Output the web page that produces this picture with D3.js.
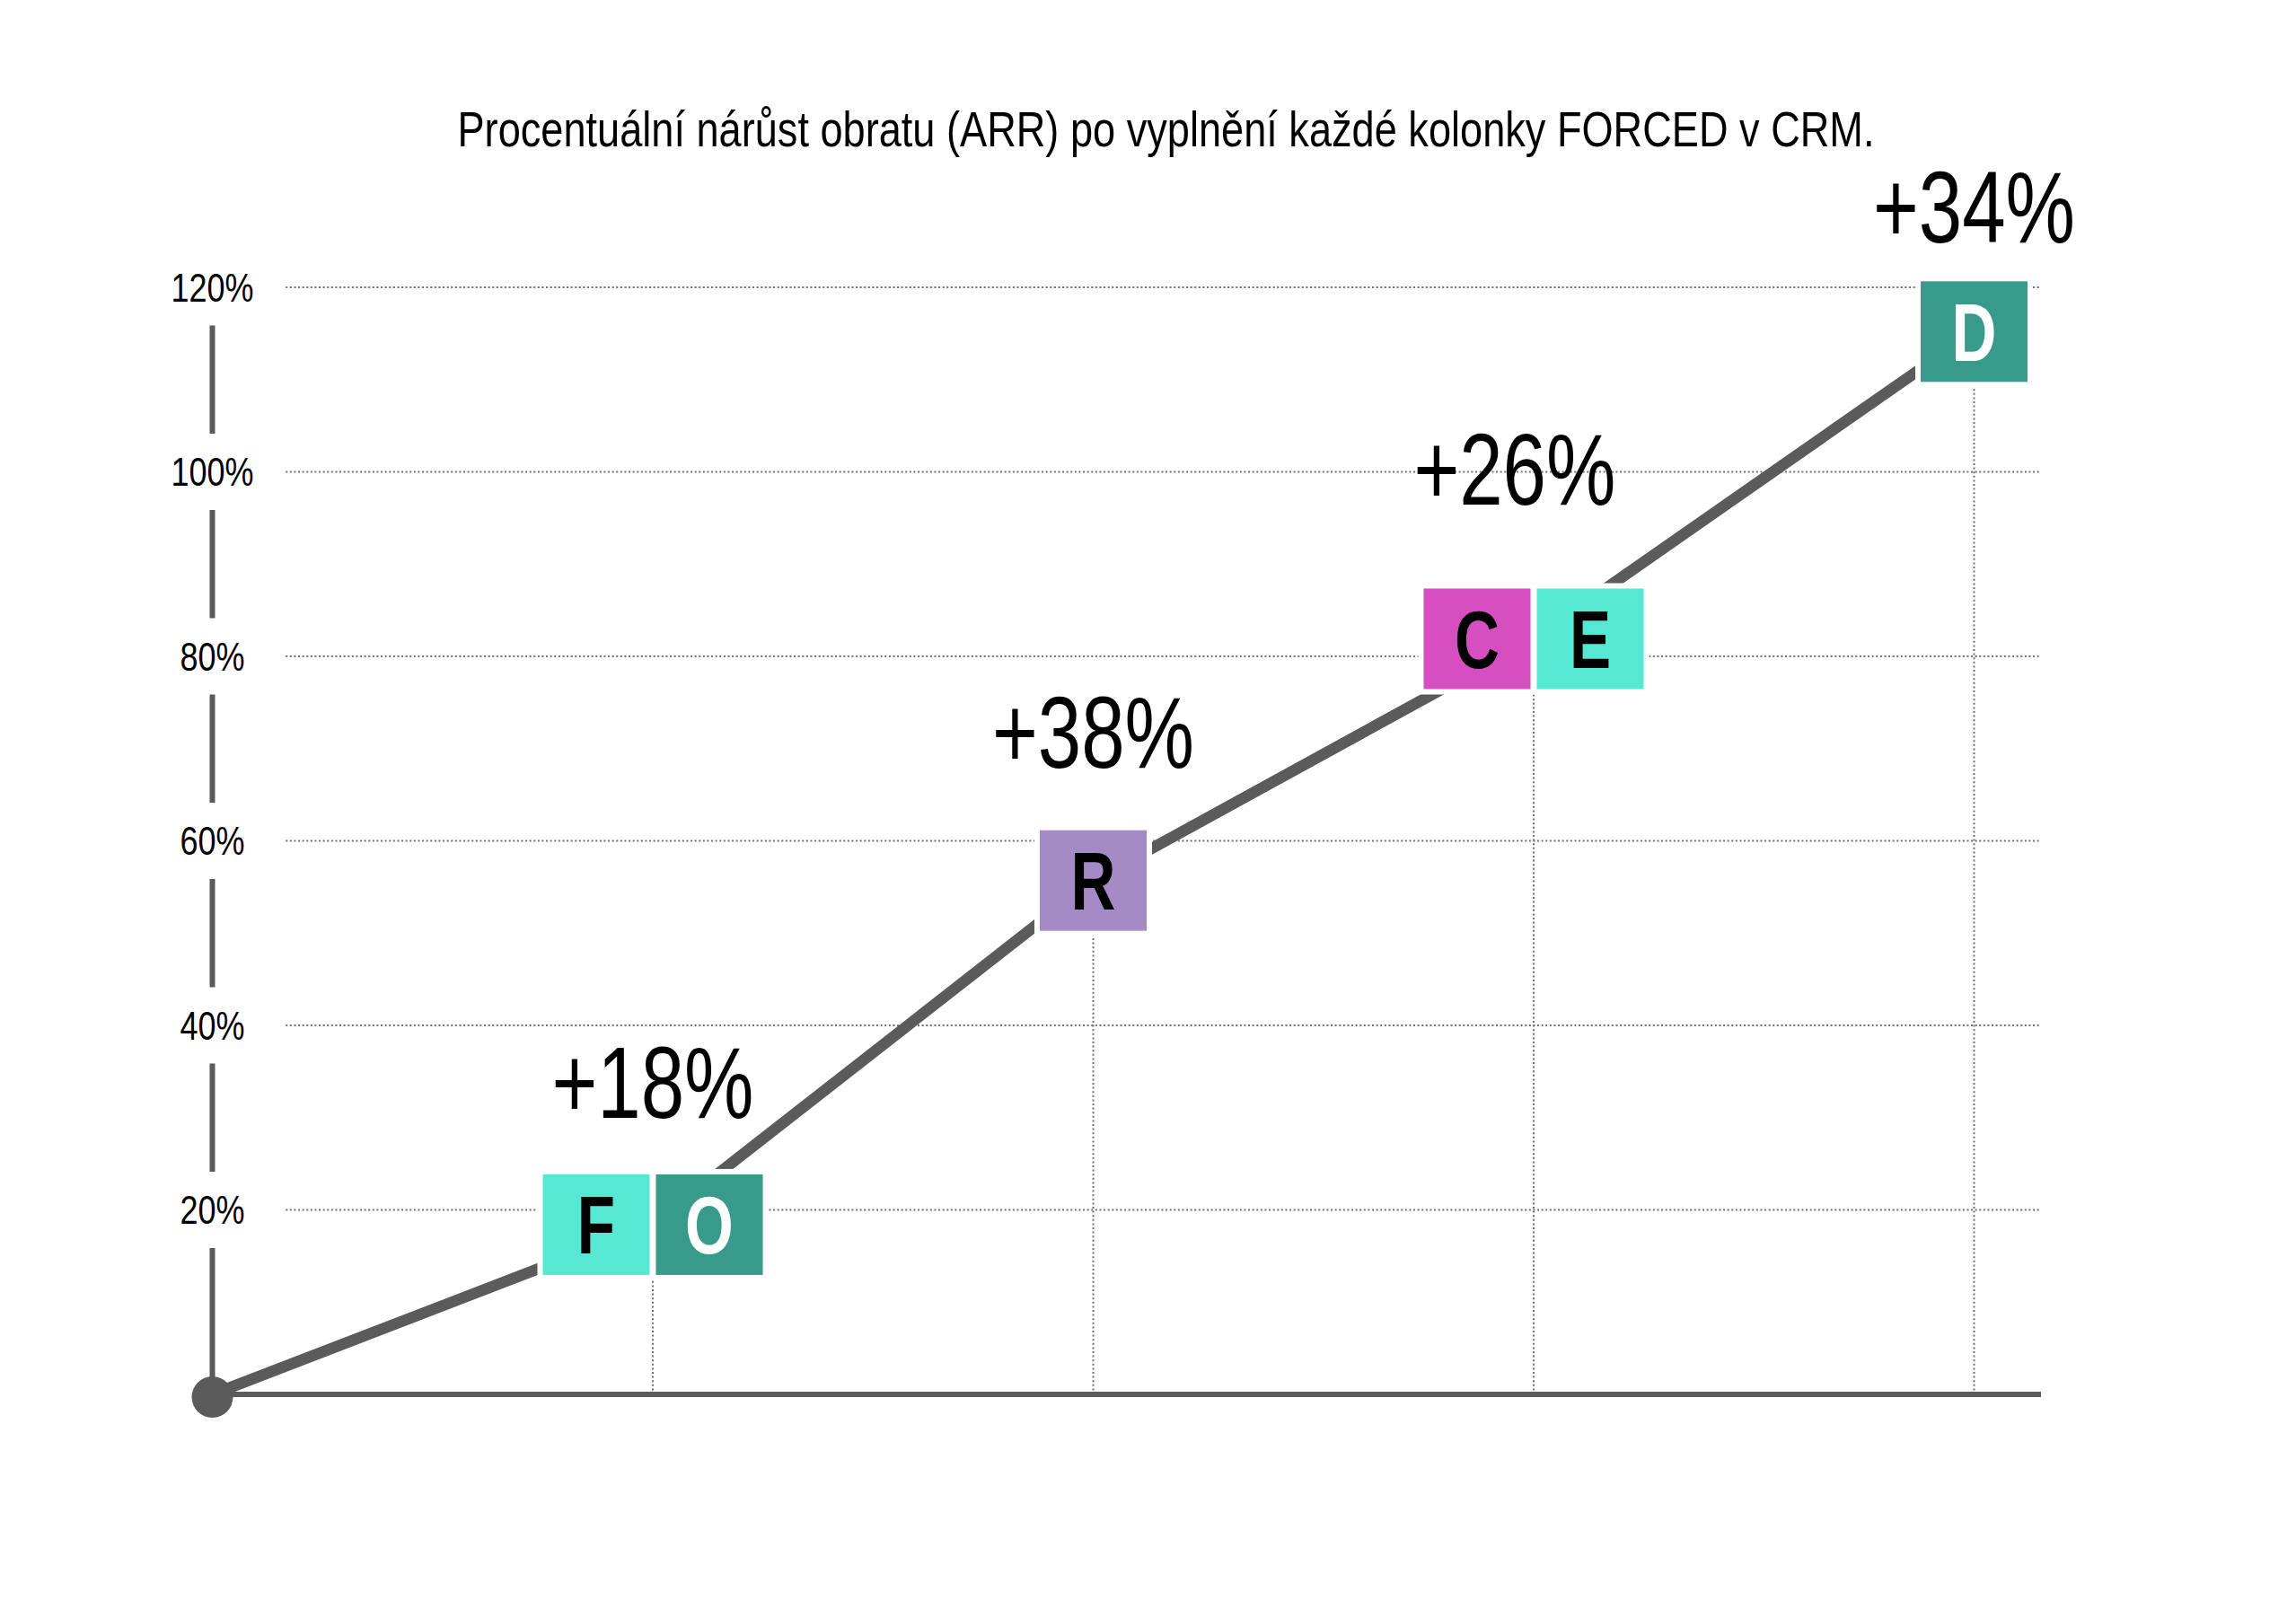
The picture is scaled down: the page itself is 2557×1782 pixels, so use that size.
<!DOCTYPE html>
<html>
<head>
<meta charset="utf-8">
<script src="https://cdn.jsdelivr.net/npm/d3@7"></script>
<style>
  html, body { margin: 0; padding: 0; background: #ffffff; }
  svg { display: block; }
</style>
</head>
<body>
<svg id="chart" width="2557" height="1782"></svg>
<script>
// ---------- data ----------
const titleText = "Procentuální nárůst obratu (ARR) po vyplnění každé kolonky FORCED v CRM.";
const startValue = 0;
const stepLetters = [["F", "O"], ["R"], ["C", "E"], ["D"]];
const stepValues = [18.4, 55.7, 81.9, 115.2];          // cumulative growth (%)
const increments = ["+18%", "+38%", "+26%", "+34%"];
const labelValues = [30.0, 67.9, 96.4, 124.9];          // annotation anchor height (%)
const labelShift = [0, 0, -0.043, 0];                   // annotation offset (step units)
const tickValues = [20, 40, 60, 80, 100, 120];
const tickLabels = ["20%", "40%", "60%", "80%", "100%", "120%"];

// ---------- styles ----------
const letterFill = { F: "#57E8D4", O: "#389A8A", R: "#A48BC6", C: "#D64FC0", E: "#57E8D4", D: "#389A8A" };
const letterInk = { F: "#000", O: "#fff", R: "#000", C: "#000", E: "#000", D: "#fff" };
const gray = "#5b5b5b";
const gridColor = "#707070";
const font = "'Liberation Sans', Arial, Helvetica, sans-serif";

const svg = d3.select("#chart");
svg.append("rect").attr("width", 2557).attr("height", 1782).attr("fill", "#fff");

const x = d3.scaleLinear().domain([0, 4]).range([236.5, 2198.5]);
const y = d3.scaleLinear().domain([0, 120]).range([1553, 320]);

const points = [{ i: 0, v: startValue }].concat(stepValues.map((v, k) => ({ i: k + 1, v })));

// horizontal dotted grid
svg.append("g").selectAll("line").data(tickValues).join("line")
  .attr("x1", x(1 / 6)).attr("x2", 2273)
  .attr("y1", d => y(d)).attr("y2", d => y(d))
  .attr("stroke", gridColor).attr("stroke-width", 2).attr("stroke-dasharray", "2,2.6");

// vertical dotted grid (from baseline to each step)
svg.append("g").selectAll("line").data(points.slice(1)).join("line")
  .attr("x1", d => x(d.i)).attr("x2", d => x(d.i))
  .attr("y1", y(0)).attr("y2", d => y(d.v))
  .attr("stroke", gridColor).attr("stroke-width", 2).attr("stroke-dasharray", "2,2.6");

// baseline
svg.append("line")
  .attr("x1", x(0)).attr("x2", 2273).attr("y1", y(0)).attr("y2", y(0))
  .attr("stroke", gray).attr("stroke-width", 6);

// y axis line
svg.append("line")
  .attr("x1", x(0)).attr("x2", x(0)).attr("y1", y(120)).attr("y2", y(0))
  .attr("stroke", gray).attr("stroke-width", 6);

// y axis labels (centred on the axis, masking it)
const yAxis = svg.append("g").attr("transform", `translate(${x(0)},0)`)
  .call(d3.axisLeft(y).tickValues(tickValues).tickFormat((d, i) => tickLabels[i]).tickSize(0));
yAxis.select(".domain").remove();
yAxis.attr("font-family", null).attr("font-size", null);
yAxis.selectAll(".tick").insert("rect", "text")
  .attr("x", -55).attr("y", -43).attr("width", 110).attr("height", 85).attr("fill", "#fff");
yAxis.selectAll(".tick text")
  .attr("x", 0).attr("dy", null).attr("y", 15)
  .attr("text-anchor", "middle")
  .attr("transform", "scale(0.8,1)")
  .style("font-family", font).style("font-size", "45px").attr("fill", "#000");

// the growth line
const line = d3.line().x(d => x(d.i)).y(d => y(d.v));
svg.append("path").datum(points)
  .attr("d", line).attr("fill", "none")
  .attr("stroke", gray).attr("stroke-width", 12.5).attr("stroke-linejoin", "miter");

// origin dot
svg.append("circle").attr("cx", x(0)).attr("cy", y(0) + 3).attr("r", 23).attr("fill", gray);

// letter boxes
const boxW = 119, boxH = 112, half = 63, halo = 6;
const boxes = [];
stepLetters.forEach((letters, k) => {
  const cx = x(k + 1), cy = y(stepValues[k]);
  letters.forEach((L, j) => {
    const off = letters.length === 1 ? 0 : (j === 0 ? -half : half);
    boxes.push({ L, cx: cx + off, cy });
  });
});
const bg = svg.append("g");
bg.selectAll("rect.halo").data(boxes).join("rect").attr("class", "halo")
  .attr("x", d => d.cx - boxW / 2 - halo).attr("y", d => d.cy - boxH / 2 - halo)
  .attr("width", boxW + 2 * halo).attr("height", boxH + 2 * halo).attr("fill", "#fff");
bg.selectAll("rect.box").data(boxes).join("rect").attr("class", "box")
  .attr("x", d => d.cx - boxW / 2).attr("y", d => d.cy - boxH / 2)
  .attr("width", boxW).attr("height", boxH).attr("fill", d => letterFill[d.L]);
bg.selectAll("text").data(boxes).join("text")
  .attr("transform", d => `translate(${d.cx},${d.cy + 32.5}) scale(0.76,1)`)
  .attr("text-anchor", "middle")
  .style("font-family", font).style("font-size", "91px").style("font-weight", "bold")
  .attr("fill", d => letterInk[d.L])
  .text(d => d.L);

// increment labels
svg.append("g").selectAll("text").data(increments).join("text")
  .attr("x", (d, k) => x(k + 1 + labelShift[k]))
  .attr("y", (d, k) => y(labelValues[k]))
  .attr("text-anchor", "middle")
  .attr("textLength", 225).attr("lengthAdjust", "spacingAndGlyphs")
  .style("font-family", font).style("font-size", "114px")
  .attr("fill", "#000")
  .text(d => d);

// title
svg.append("text")
  .attr("x", 1298.5).attr("y", 163)
  .attr("text-anchor", "middle")
  .attr("textLength", 1578).attr("lengthAdjust", "spacingAndGlyphs")
  .style("font-family", font).style("font-size", "56px")
  .attr("fill", "#000")
  .text(titleText);
</script>
</body>
</html>
